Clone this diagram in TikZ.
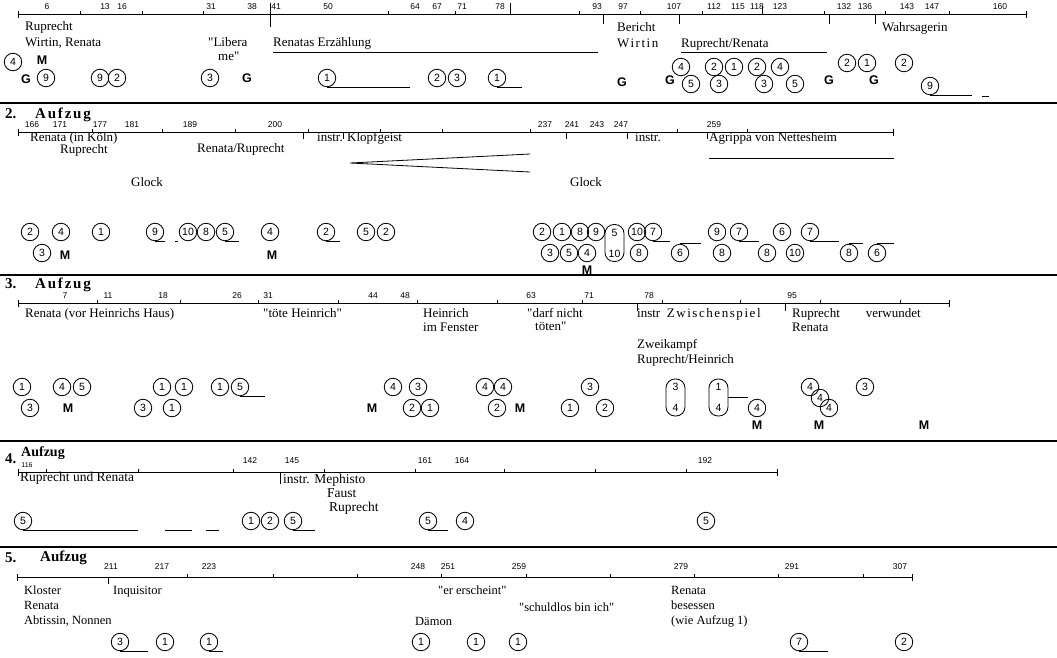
\documentclass[tikz,border=0pt]{standalone}
\usepackage{fontspec}
\setmainfont{Liberation Serif}
\setsansfont{Liberation Sans}
\newfontfamily\spacedrm[LetterSpace=12]{Liberation Serif}
\usepackage{tikz}
\usetikzlibrary{arrows.meta,positioning}

\begin{document}
\begin{tikzpicture}[x=1pt, y=-1pt,
  num/.style={circle, draw, line width=0.85pt, inner sep=0pt, minimum size=17.5pt, font=\sffamily\fontsize{10.5}{12}\selectfont},
  pill/.style={draw, line width=0.85pt, rounded corners=9pt, minimum width=19pt, minimum height=37pt, inner sep=0pt, align=center, font=\sffamily\fontsize{10.5}{12}\selectfont},
  mk/.style={inner sep=0pt, font=\sffamily\bfseries\fontsize{12.5}{14}\selectfont},
  lab/.style={anchor=base west, inner sep=0pt, font=\fontsize{13}{15}\selectfont},
  labsm/.style={lab, font=\fontsize{12.5}{15}\selectfont},
  labbig/.style={lab, font=\fontsize{13.5}{15}\selectfont},
  hd/.style={anchor=base west, inner sep=0pt, font=\bfseries\fontsize{15}{18}\selectfont},
  tn/.style={inner sep=0pt, font=\sffamily\fontsize{8.5}{10}\selectfont},
  tl/.style={line width=0.8pt, {Bar[width=7pt]}-{Bar[width=7pt]}},
  tk/.style={line width=0.7pt},
  ul/.style={line width=0.8pt},
  sep/.style={line width=2.5pt}]
\useasboundingbox (0,0) rectangle (1057,657);
\fill[white] (0,0) rectangle (1057,657);
% 1. Aufzug
\coordinate (s1l) at (18,14);
\coordinate (s1r) at (1027,14);
\draw[tl] (s1l) -- (s1r);
\foreach \x in {80,142,203,388,455,579,640,702,824,885,949} \draw[tk] (\x,14) -- ++(0,-3);
\foreach \x in {603,679,829,875} \draw[tk] (\x,14) -- ++(0,10);
\draw[tk] (270,3) -- (270,27);
\draw[tk] (510,3) -- (510,14);
\draw[tk] (762,6) -- (762,14);
\foreach \x/\t in {47/6,105/13,122/16,211/31,252/38,276/41,328/50,415/64,437/67,462/71,500/78,597/93,623/97,674/107,714/112,738/115,757/118,780/123,844/132,865/136,907/143,932/147,1000/160}
  \node[tn] (z1-\t) at (\x,7) {\t};
\node[lab] (l1a) at (25,30) {Ruprecht};
\node[lab] (l1b) at (25,46) {Wirtin, Renata};
\node[lab] (l1c) at (208,46) {\textquotedbl Libera};
\node[lab] (l1d) at (218,60) {me\textquotedbl};
\node[lab] (l1e) at (273,46) {Renatas Erzählung};
\draw[ul] ([yshift=-6pt]l1e.base west) -- ++(325,0);
\node[lab] (l1f) at (617,31) {Bericht};
\node[lab] (l1g) at (617,47) {\spacedrm Wirtin};
\node[lab] (l1h) at (681,47) {Ruprecht/Renata};
\draw[ul] ([yshift=-5pt]l1h.base west) -- ++(146,0);
\node[lab] (l1i) at (882,31) {Wahrsagerin};
\node[num] (a1) at (13,62) {4};
\node[mk] (m1) at (42,60) {M};
\node[mk] (g1) at (26,79) {G};
\node[num] (a2) at (46,78) {9};
\node[num] (a3) at (100,78) {9};
\node[num] (a4) at (117,78) {2};
\node[num] (a5) at (210,78) {3};
\node[mk] (g2) at (247,78) {G};
\node[num] (a6) at (327,78) {1};
\draw[ul] (a6.south) -- ++(83,0);
\node[num] (a7) at (437,78) {2};
\node[num] (a8) at (457,78) {3};
\node[num] (a9) at (497,78) {1};
\draw[ul] (a9.south) -- ++(25,0);
\node[mk] (g3) at (622,82) {G};
\node[mk] (g4) at (670,80) {G};
\node[num] (a10) at (681,67) {4};
\node[num] (a11) at (691,84) {5};
\node[num] (a12) at (714,67) {2};
\node[num] (a13) at (719,84) {3};
\node[num] (a14) at (734,67) {1};
\node[num] (a15) at (757,67) {2};
\node[num] (a16) at (764,84) {3};
\node[num] (a17) at (780,67) {4};
\node[num] (a18) at (795,84) {5};
\node[mk] (g5) at (829,80) {G};
\node[num] (a19) at (847,63) {2};
\node[num] (a20) at (867,63) {1};
\node[mk] (g6) at (874,80) {G};
\node[num] (a21) at (904,63) {2};
\node[num] (a22) at (930,86) {9};
\draw[ul] (a22.south) -- ++(42,0);
\draw[ul] (982,96) -- (989,96);
\draw[sep] (0,103) -- (1057,103);
% 2. Aufzug
\node[hd] (h2a) at (5,118) {2.};
\node[hd] (h2b) at (35,118) {\spacedrm Aufzug};
\coordinate (s2l) at (18,132);
\coordinate (s2r) at (894,132);
\draw[tl] (s2l) -- (s2r);
\foreach \x in {92,162,235,308,380,442,530,677,747} \draw[tk] (\x,132) -- ++(0,-3);
\foreach \x in {303,343,566,627,707} \draw[tk] (\x,132) -- ++(0,7);
\foreach \x/\t in {32/166,60/171,100/177,132/181,190/189,275/200,545/237,572/241,597/243,621/247,714/259}
  \node[tn] (z2-\t) at (\x,125) {\t};
\node[lab] (l2a) at (30,141) {Renata (in Köln)};
\node[lab] (l2b) at (60,153) {Ruprecht};
\node[lab] (l2c) at (197,152) {Renata/Ruprecht};
\node[lab] (l2d) at (317,141) {instr.};
\node[lab] (l2d2) at (347,141) {Klopfgeist};
\node[lab] (l2e) at (131,186) {Glock};
\node[lab] (l2f) at (635,141) {instr.};
\node[lab] (l2g) at (709,141) {Agrippa von Nettesheim};
\draw[ul] ([yshift=-17pt]l2g.base west) -- ++(185,0);
\node[lab] (l2h) at (570,186) {Glock};
\coordinate (w0) at (350,163);
\coordinate (w1) at (530,154);
\coordinate (w2) at (530,172);
\draw[ul] (w1) -- (w0) -- (w2);
\node[num] (b1) at (30,232) {2};
\node[num] (b2) at (61,232) {4};
\node[num] (b3) at (101,232) {1};
\node[num] (b4) at (155,232) {9};
\draw[ul] (b4.south) -- ++(10,0);
\draw[ul] (175,241) -- (178,241);
\node[num] (b5) at (188,232) {10};
\node[num] (b6) at (206,232) {8};
\node[num] (b7) at (225,232) {5};
\draw[ul] (b7.south) -- ++(14,0);
\node[num] (b8) at (270,232) {4};
\node[num] (b9) at (326,232) {2};
\draw[ul] (b9.south) -- ++(14,0);
\node[num] (b10) at (366,232) {5};
\node[num] (b11) at (386,232) {2};
\node[num] (b12) at (42,253) {3};
\node[mk] (m2) at (65,255) {M};
\node[mk] (m3) at (272,255) {M};
\node[num] (b13) at (542,232) {2};
\node[num] (b14) at (562,232) {1};
\node[num] (b15) at (580,232) {8};
\node[num] (b16) at (596,232) {9};
\node[pill] (p1) at (614.5,243) {5\\[9pt]10};
\node[num] (b17) at (637,232) {10};
\node[num] (b18) at (653,232) {7};
\draw[ul] (b18.south) -- ++(17,0);
\node[num] (b19) at (550,253) {3};
\node[num] (b20) at (569,253) {5};
\node[num] (b21) at (587,253) {4};
\node[mk] (m4) at (587,270) {M};
\node[num] (b22) at (639,253) {8};
\node[num] (b23) at (680,253) {6};
\draw[ul] (b23.north) -- ++(21,0);
\node[num] (b24) at (717,232) {9};
\node[num] (b25) at (739,232) {7};
\draw[ul] (b25.south) -- ++(20,0);
\node[num] (b26) at (722,253) {8};
\node[num] (b27) at (767,253) {8};
\node[num] (b28) at (795,253) {10};
\node[num] (b29) at (782,232) {6};
\node[num] (b30) at (810,232) {7};
\draw[ul] (b30.south) -- ++(29,0);
\node[num] (b31) at (849,253) {8};
\draw[ul] (b31.north) -- ++(14,0);
\node[num] (b32) at (877,253) {6};
\draw[ul] (b32.north) -- ++(17,0);
\draw[sep] (0,275) -- (1057,275);
% 3. Aufzug
\node[hd] (h3a) at (5,288) {3.};
\node[hd] (h3b) at (35,288) {\spacedrm Aufzug};
\coordinate (s3l) at (18,303);
\coordinate (s3r) at (950,303);
\draw[tl] (s3l) -- (s3r);
\foreach \x in {97,180,258,338,417,497,582,662,740,820,900} \draw[tk] (\x,303) -- ++(0,-3);
\foreach \x in {637,785} \draw[tk] (\x,303) -- ++(0,8);
\foreach \x/\t in {65/7,108/11,163/18,237/26,268/31,373/44,405/48,531/63,589/71,649/78,792/95}
  \node[tn] (z3-\t) at (\x,296) {\t};
\node[lab] (l3a) at (25,317) {Renata\ (vor\ Heinrichs\ Haus)};
\node[lab] (l3b) at (263,317) {\textquotedbl töte Heinrich\textquotedbl};
\node[lab] (l3c) at (423,317) {Heinrich};
\node[lab] (l3d) at (423,331) {im Fenster};
\node[lab] (l3e) at (527,317) {\textquotedbl darf nicht};
\node[lab] (l3f) at (535,330) {töten\textquotedbl};
\node[lab] (l3g) at (637,317) {instr\ \ {\spacedrm Zwischenspiel}};
\node[lab] (l3h) at (792,317) {Ruprecht\hspace{2em}verwundet};
\node[lab] (l3i) at (792,331) {Renata};
\node[lab] (l3j) at (637,348) {Zweikampf};
\node[lab] (l3k) at (637,363) {Ruprecht/Heinrich};
\node[num] (c1) at (22,387) {1};
\node[num] (c2) at (30,408) {3};
\node[num] (c3) at (62,387) {4};
\node[num] (c4) at (82,387) {5};
\node[mk] (m5) at (68,408) {M};
\node[num] (c5) at (162,387) {1};
\node[num] (c6) at (184,387) {1};
\node[num] (c7) at (220,387) {1};
\node[num] (c8) at (240,387) {5};
\draw[ul] (c8.south) -- ++(25,0);
\node[num] (c9) at (143,408) {3};
\node[num] (c10) at (172,408) {1};
\node[mk] (m6) at (372,408) {M};
\node[num] (c11) at (393,387) {4};
\node[num] (c12) at (418,387) {3};
\node[num] (c13) at (412,408) {2};
\node[num] (c14) at (430,408) {1};
\node[num] (c15) at (485,387) {4};
\node[num] (c16) at (503,387) {4};
\node[num] (c17) at (497,408) {2};
\node[mk] (m7) at (520,408) {M};
\node[num] (c18) at (590,387) {3};
\node[num] (c19) at (570,408) {1};
\node[num] (c20) at (605,408) {2};
\node[pill] (p2) at (675.5,397.5) {3\\[9pt]4};
\node[pill] (p3) at (718.5,397.5) {1\\[9pt]4};
\node[num] (c21) at (757,408) {4};
\draw[ul] (p3.east) -- (p3.east -| c21.west);
\node[mk] (m8) at (757,425) {M};
\node[num] (c22) at (810,387) {4};
\node[num] (c23) at (820,398) {4};
\node[num] (c24) at (829,408) {4};
\node[mk] (m9) at (819,425) {M};
\node[num] (c25) at (865,387) {3};
\node[mk] (m10) at (924,425) {M};
\draw[sep] (0,441) -- (1057,441);
% 4. Aufzug
\node[hd] (h4a) at (5,463) {4.};
\node[hd, font=\bfseries\fontsize{14}{16}\selectfont] (h4b) at (21,456) {Aufzug};
\coordinate (s4l) at (18,472);
\coordinate (s4r) at (778,472);
\draw[tl] (s4l) -- (s4r);
\foreach \x in {46,138,233,324,415,504,595,686} \draw[tk] (\x,472) -- ++(0,-3);
\draw[tk] (280,472) -- ++(0,12);
\node[tn, font=\sffamily\fontsize{7}{8}\selectfont] (z4-116) at (27,465) {116};
\foreach \x/\t in {250/142,292/145,425/161,462/164,705/192}
  \node[tn] (z4-\t) at (\x,461) {\t};
\node[labbig] (l4a) at (20,481) {Ruprecht und Renata};
\node[labbig] (l4b) at (283,483) {instr. Mephisto};
\node[labbig] (l4c) at (327,497) {Faust};
\node[labbig] (l4d) at (329,511) {Ruprecht};
\node[num] (d1) at (23,521) {5};
\draw[ul] (d1.south) -- ++(115,0);
\draw[ul] (165,530) -- (192,530);
\draw[ul] (206,530) -- (219,530);
\node[num] (d2) at (251,521) {1};
\node[num] (d3) at (270,521) {2};
\node[num] (d4) at (293,521) {5};
\draw[ul] (d4.south) -- ++(22,0);
\node[num] (d5) at (428,521) {5};
\draw[ul] (d5.south) -- ++(20,0);
\node[num] (d6) at (465,521) {4};
\node[num] (d7) at (706,521) {5};
\draw[sep] (0,547) -- (1057,547);
% 5. Aufzug
\node[hd] (h5a) at (5,562) {5.};
\node[hd] (h5b) at (40,561) {Aufzug};
\coordinate (s5l) at (17,577);
\coordinate (s5r) at (913,577);
\draw[tl] (s5l) -- (s5r);
\foreach \x in {187,273,357,441,526,610,694,778,863} \draw[tk] (\x,577) -- ++(0,-3);
\draw[tk] (108,577) -- ++(0,7);
\foreach \x/\t in {111/211,162/217,209/223,418/248,448/251,519/259,681/279,792/291,900/307}
  \node[tn] (z5-\t) at (\x,567) {\t};
\node[labsm] (l5a) at (24,594) {Kloster};
\node[labsm] (l5b) at (24,609) {Renata};
\node[labsm] (l5c) at (24,624) {Abtissin, Nonnen};
\node[labsm] (l5d) at (113,594) {Inquisitor};
\node[labsm] (l5e) at (438,594) {\textquotedbl er erscheint\textquotedbl};
\node[labsm] (l5f) at (519,611) {\textquotedbl schuldlos bin ich\textquotedbl};
\node[labsm] (l5g) at (415,625) {Dämon};
\node[labsm] (l5h) at (671,594) {Renata};
\node[labsm] (l5i) at (671,609) {besessen};
\node[labsm] (l5j) at (671,624) {(wie Aufzug 1)};
\node[num] (e1) at (120,642) {3};
\draw[ul] (e1.south) -- ++(28,0);
\node[num] (e2) at (165,642) {1};
\node[num] (e3) at (209,642) {1};
\draw[ul] (e3.south) -- ++(14,0);
\node[num] (e4) at (421,642) {1};
\node[num] (e5) at (476,642) {1};
\node[num] (e6) at (518,642) {1};
\node[num] (e7) at (799,642) {7};
\draw[ul] (e7.south) -- ++(29,0);
\node[num] (e8) at (904,642) {2};
\end{tikzpicture}
\end{document}
